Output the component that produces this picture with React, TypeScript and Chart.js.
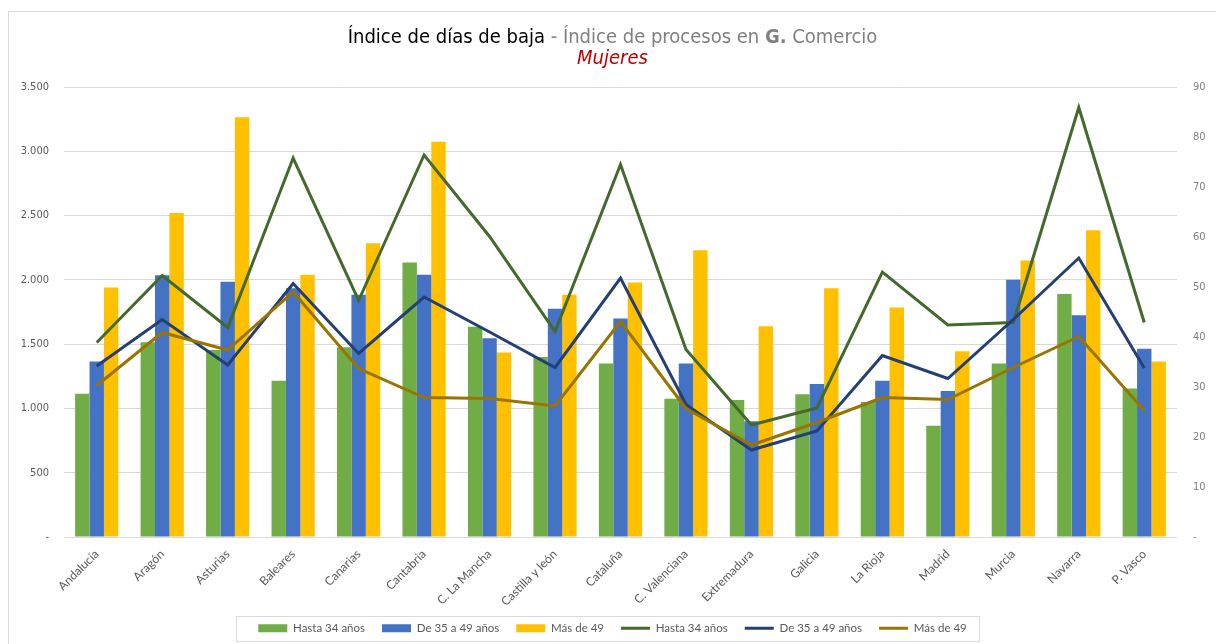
import React, { useEffect, useRef } from "react";
import { Chart, registerables } from "chart.js";

Chart.register(...registerables);

const categories = [
  "Andalucía", "Aragón", "Asturias", "Baleares", "Canarias", "Cantabria",
  "C. La Mancha", "Castilla y león", "Cataluña", "C. Valenciana", "Extremadura",
  "Galicia", "La Rioja", "Madrid", "Murcia", "Navarra", "P. Vasco",
];

// Índice de días de baja (left axis, bars)
const diasHasta34 = [1115, 1515, 1455, 1215, 1475, 2135, 1635, 1400, 1350, 1075, 1065, 1110, 1050, 865, 1350, 1890, 1155];
const dias35a49 = [1365, 2035, 1985, 1935, 1885, 2040, 1545, 1775, 1700, 1350, 900, 1190, 1215, 1135, 2000, 1725, 1465];
const diasMas49 = [1940, 2520, 3265, 2040, 2285, 3075, 1435, 1885, 1980, 2230, 1640, 1935, 1785, 1445, 2150, 2385, 1365];

// Índice de procesos (right axis, lines)
const procHasta34 = [38.9, 52.3, 41.9, 75.8, 47.3, 76.4, 60.1, 41.1, 74.5, 37.5, 22.4, 25.8, 53.0, 42.4, 42.9, 85.9, 42.9];
const proc35a49 = [34.2, 43.5, 34.4, 50.7, 36.7, 48.0, 41.0, 33.9, 51.8, 26.5, 17.4, 21.2, 36.3, 31.7, 43.5, 55.8, 33.8];
const procMas49 = [30.3, 40.9, 37.4, 49.0, 33.7, 27.9, 27.7, 26.2, 43.1, 25.7, 18.4, 22.9, 27.9, 27.5, 33.9, 40.1, 25.3];

const seriesLabels = ["Hasta 34 años", "De 35 a 49 años", "Más de 49"];

const leftMax = 3500;
const leftStep = 500;
const rightMax = 90;
const rightStep = 10;

const titleMain = "Índice de días de baja";
const titleSep = " - Índice de procesos en ";
const titleBold = "G.";
const titleEnd = " Comercio";
const subtitle = "Mujeres";

const TITLE_FONT = "'DejaVu Sans Condensed', 'DejaVu Sans', sans-serif";

function formatThousands(v: number): string {
  if (v === 0) return "-";
  const s = Math.round(v).toString();
  return s.replace(/\B(?=(\d{3})+(?!\d))/g, ".");
}

const titlePlugin = {
  id: "customTitle",
  afterDraw(chart: any) {
    const ctx = chart.ctx;
    ctx.save();
    const parts = [
      { text: titleMain, color: "#000000", weight: "normal" },
      { text: titleSep, color: "#808080", weight: "normal" },
      { text: titleBold, color: "#808080", weight: "bold" },
      { text: titleEnd, color: "#808080", weight: "normal" },
    ];
    let total = 0;
    const widths: number[] = [];
    for (const p of parts) {
      ctx.font = `${p.weight} 20px ${TITLE_FONT}`;
      const w = ctx.measureText(p.text).width;
      widths.push(w);
      total += w;
    }
    let x = chart.width / 2 - total / 2;
    ctx.textBaseline = "alphabetic";
    ctx.textAlign = "left";
    parts.forEach((p, i) => {
      ctx.font = `${p.weight} 20px ${TITLE_FONT}`;
      ctx.fillStyle = p.color;
      ctx.fillText(p.text, x, 31);
      x += widths[i];
    });
    ctx.font = `italic 20px ${TITLE_FONT}`;
    ctx.fillStyle = "#C00000";
    ctx.textAlign = "center";
    ctx.fillText(subtitle, chart.width / 2, 52);
    ctx.restore();
  },
};

const legendBoxPlugin = {
  id: "legendBox",
  afterDraw(chart: any) {
    const lg = chart.legend;
    if (!lg || !lg.legendHitBoxes || !lg.legendHitBoxes.length) return;
    const hbs = lg.legendHitBoxes;
    let l = Infinity, r = -Infinity, cy = 0;
    hbs.forEach((h: any) => {
      l = Math.min(l, h.left);
      r = Math.max(r, h.left + h.width);
      cy = h.top + h.height / 2;
    });
    const ctx = chart.ctx;
    ctx.save();
    ctx.strokeStyle = "#D9D9D9";
    ctx.lineWidth = 1;
    ctx.strokeRect(Math.round(l - 22) + 0.5, Math.round(cy - 12.5) + 0.5, Math.round(r - l + 35), 25);
    ctx.restore();
  },
};

export default function App() {
  const canvasRef = useRef<HTMLCanvasElement | null>(null);

  useEffect(() => {
    if (!canvasRef.current) return;
    const barColors = ["#70AD47", "#4472C4", "#FFC000"];
    const lineColors = ["#436A2C", "#233F73", "#9A7400"];
    const barData = [diasHasta34, dias35a49, diasMas49];
    const lineData = [procHasta34, proc35a49, procMas49];

    const datasets: any[] = [];
    barData.forEach((d, i) => {
      datasets.push({
        type: "bar",
        label: seriesLabels[i],
        data: d,
        backgroundColor: barColors[i],
        borderWidth: 0,
        yAxisID: "y",
        order: 10,
        categoryPercentage: 0.66,
        barPercentage: 1.0,
      });
    });
    lineData.forEach((d, i) => {
      datasets.push({
        type: "line",
        label: seriesLabels[i],
        data: d,
        borderColor: lineColors[i],
        backgroundColor: lineColors[i],
        borderWidth: 3,
        pointRadius: 0,
        tension: 0,
        fill: false,
        yAxisID: "y1",
        order: 3 - i,
      });
    });

    const chart = new Chart(canvasRef.current, {
      type: "bar",
      data: { labels: categories, datasets },
      plugins: [titlePlugin, legendBoxPlugin],
      options: {
        animation: false,
        responsive: true,
        maintainAspectRatio: false,
        layout: { padding: { top: 75, left: 0, right: 0, bottom: 0 } },
        plugins: {
          title: { display: false },
          tooltip: { enabled: false },
          legend: {
            position: "bottom",
            labels: {
              usePointStyle: true,
              pointStyleWidth: 29,
              boxHeight: 8,
              padding: 17,
              color: "#595959",
              font: { family: "Lato, sans-serif", size: 11.5 },
              sort: (a: any, b: any) => a.datasetIndex - b.datasetIndex,
              generateLabels(chart: any) {
                const items = Chart.defaults.plugins.legend.labels.generateLabels(chart);
                return items.map((it: any) => {
                  const isBar = it.datasetIndex < 3;
                  const ds = chart.data.datasets[it.datasetIndex];
                  return {
                    ...it,
                    pointStyle: isBar ? "rect" : "line",
                    lineWidth: isBar ? 0 : 3,
                    fillStyle: isBar ? ds.backgroundColor : ds.borderColor,
                    strokeStyle: isBar ? ds.backgroundColor : ds.borderColor,
                  };
                });
              },
            },
          },
        },
        scales: {
          x: {
            offset: true,
            grid: { display: false },
            border: { display: false },
            ticks: {
              maxRotation: 45,
              minRotation: 45,
              autoSkip: false,
              color: "#595959",
              padding: 2,
              font: { family: "Lato, sans-serif", size: 12 },
            },
            afterFit(scale: any) {
              scale.height = 68.5;
            },
          },
          y: {
            position: "left",
            min: 0,
            max: leftMax,
            ticks: {
              stepSize: leftStep,
              color: "#595959",
              padding: 15,
              font: { family: "'DejaVu Sans Condensed', sans-serif", size: 11 },
              callback: (v: any) => formatThousands(Number(v)),
            },
            grid: { color: "#D9D9D9", lineWidth: 1, drawTicks: false },
            border: { display: false },
            afterFit(scale: any) {
              scale.width = 55;
            },
          },
          y1: {
            position: "right",
            min: 0,
            max: rightMax,
            ticks: {
              stepSize: rightStep,
              color: "#808080",
              padding: 16,
              font: { family: "'DejaVu Sans Condensed', sans-serif", size: 11 },
              callback: (v: any) => (Number(v) === 0 ? "-" : String(v)),
            },
            grid: { display: false, drawTicks: false },
            border: { display: false },
            afterFit(scale: any) {
              scale.width = 39;
            },
          },
        },
      },
    });
    return () => chart.destroy();
  }, []);

  return (
    <div
      style={{
        position: "fixed",
        left: 8,
        top: 11,
        width: 1208,
        height: 633,
        boxSizing: "border-box",
        borderTop: "1px solid #D9D9D9",
        borderLeft: "1px solid #D9D9D9",
        background: "#FFFFFF",
      }}
    >
      <canvas ref={canvasRef} />
    </div>
  );
}
